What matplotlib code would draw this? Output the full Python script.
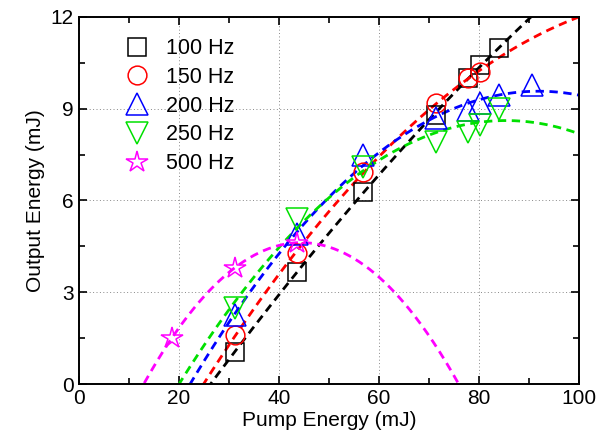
import numpy as np
import matplotlib.pyplot as plt
from matplotlib.ticker import MultipleLocator

plt.rcParams['font.family'] = ['Liberation Sans', 'DejaVu Sans']

# Donnees (energie de pompe / energie de sortie, mJ)
pump_100 = [31.2, 43.7, 56.9, 71.4, 77.9, 80.2, 84.1]
out_100 = [1.05, 3.67, 6.28, 8.8, 10.0, 10.43, 10.97]

pump_150 = [31.2, 43.7, 56.9, 71.4, 77.9, 80.2]
out_150 = [1.6, 4.27, 6.94, 9.2, 10.0, 10.2]

pump_200 = [31.2, 43.7, 56.9, 71.4, 77.9, 80.2, 84.1, 90.7]
out_200 = [2.25, 4.92, 7.48, 8.68, 8.95, 9.17, 9.44, 9.77]

pump_250 = [31.2, 43.7, 56.9, 71.4, 77.9, 80.2, 84.1]
out_250 = [2.5, 5.4, 7.1, 7.92, 8.25, 8.47, 9.0]

pump_500 = [18.6, 31.2, 43.7]
out_500 = [1.5, 3.8, 4.62]

labels = ["100 Hz", "150 Hz", "200 Hz", "250 Hz", "500 Hz"]
couleurs = ["black", "red", "blue", "#00e000", "magenta"]
marqueurs = ["s", "o", "^", "v", "*"]
tailles = [12.5, 13.5, 16, 16, 16]

series = [(pump_100, out_100), (pump_150, out_150), (pump_200, out_200),
          (pump_250, out_250), (pump_500, out_500)]

fig = plt.figure(figsize=(6.06, 4.44), dpi=100)
ax = fig.add_axes([0.130, 0.135, 0.825, 0.827])

xfit = np.linspace(0, 100, 400)
for (px, py), lab, c, m, s in zip(series, labels, couleurs, marqueurs, tailles):
    # ajustement polynomial d'ordre 2
    coef = np.polyfit(px, py, 2)
    ax.plot(xfit, np.polyval(coef, xfit), color=c, lw=2, linestyle=(0, (3, 2)))
for (px, py), lab, c, m, s in zip(series, labels, couleurs, marqueurs, tailles):
    ax.plot(px, py, linestyle='none', marker=m, markersize=s, markerfacecolor='none',
            markeredgecolor=c, markeredgewidth=1.1, label=lab)

ax.set_xlim(0, 100)
ax.set_ylim(0, 12)
ax.xaxis.set_major_locator(MultipleLocator(20))
ax.xaxis.set_minor_locator(MultipleLocator(10))
ax.yaxis.set_major_locator(MultipleLocator(3))
ax.yaxis.set_minor_locator(MultipleLocator(1.5))
ax.tick_params(which='both', direction='in', top=True, right=True, labelsize=15, width=1.2)
ax.tick_params(which='major', length=6)
ax.tick_params(which='minor', length=4)
for sp in ax.spines.values():
    sp.set_linewidth(1.4)
ax.grid(True, linestyle=(0, (1, 2.5)), color='#888888', lw=0.7)
ax.set_xlabel("Pump Energy (mJ)", fontsize=15, labelpad=2)
ax.set_ylabel("Output Energy (mJ)", fontsize=15, labelpad=4)

ax.legend(loc='upper left', frameon=False, fontsize=15.5, bbox_to_anchor=(0.045, 0.995),
          handletextpad=0.6, labelspacing=0.36, handlelength=1.5)

plt.savefig("out.png", dpi=100)
